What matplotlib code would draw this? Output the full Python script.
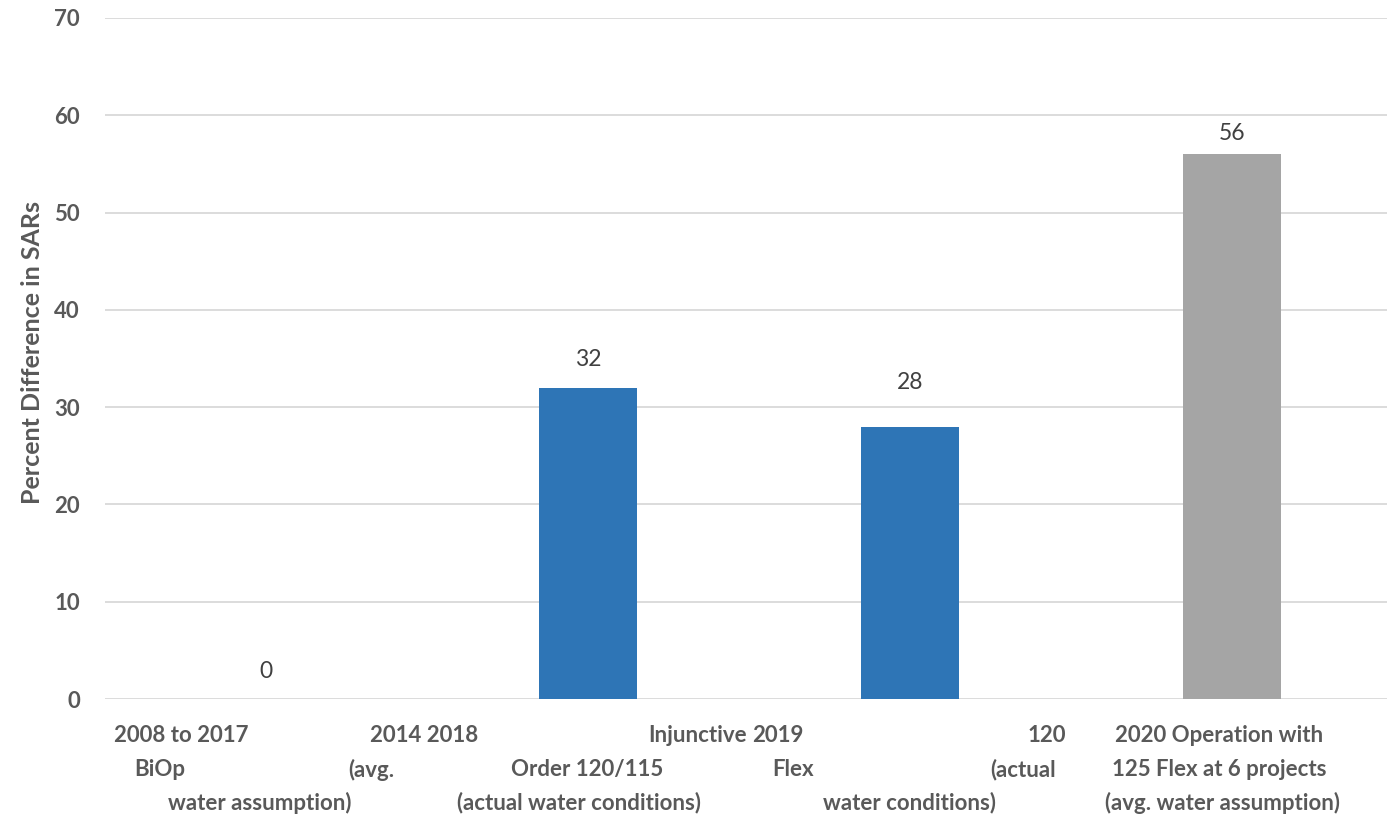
import matplotlib.pyplot as plt
import matplotlib.transforms as mtransforms

# values
categories = ["2008 to 2017 BiOp", "2014 2018 Injunctive Order", "2019 Flex 120", "2020 Operation with 125 Flex"]
values = [0, 32, 28, 56]
bar_colors = ["#2E75B6", "#2E75B6", "#2E75B6", "#A5A5A5"]
yticks = [0, 10, 20, 30, 40, 50, 60, 70]

# the category labels are wrapped oddly in the source, so each piece is placed by hand
label_pieces = [
    ("2008 to 2017", -0.264, 0), ("2014 2018", 0.491, 0), ("Injunctive", 1.34, 0),
    ("2019", 1.590, 0), ("120", 2.425, 0), ("2020 Operation with", 2.960, 0),
    ("BiOp", -0.329, 1), ("(avg.", 0.326, 1), ("Order 120/115", 0.997, 1),
    ("Flex", 1.637, 1), ("(actual", 2.351, 1), ("125 Flex at 6 projects", 2.960, 1),
    ("water assumption)", -0.019, 2), ("(actual water conditions)", 0.972, 2),
    ("water conditions)", 1.997, 2), ("(avg. water assumption)", 2.969, 2),
]
row_y = [-0.054, -0.104, -0.152]
label_offsets = [20, 20, 32, 15]  # points above bar top for value labels

W, H = 1387, 814
fig = plt.figure(figsize=(W / 100, H / 100), dpi=100)
ax = fig.add_axes([105 / W, (H - 699) / H, 1288 / W, 681 / H])

x = list(range(len(values)))
ax.bar(x, values, width=0.305, color=bar_colors, zorder=2)

for xi, v, off in zip(x, values, label_offsets):
    ax.annotate(str(v), (xi, v), xytext=(0, off), textcoords="offset points",
                ha="center", va="center", fontsize=16.5, color="#404040", family="Lato")

ax.set_xlim(-0.5, 3.5)
ax.set_ylim(0, 70)
ax.set_yticks(yticks)
ax.set_yticklabels([str(t) for t in yticks], fontsize=16, fontweight="bold",
                   color="#595959", family="Lato")
ax.tick_params(axis="y", length=0, pad=18)
ax.set_xticks([])
ax.grid(axis="y", color="#D9D9D9", linewidth=1.3, zorder=0)
for s in ax.spines.values():
    s.set_visible(False)

trans = mtransforms.blended_transform_factory(ax.transData, ax.transAxes)
for text, xd, row in label_pieces:
    ax.text(xd, row_y[row], text, transform=trans, ha="center", va="center",
            fontsize=16, fontweight="bold", color="#595959", family="Lato", clip_on=False)

fig.text(33 / W, 1 - 353 / H, "Percent Difference in SARs", rotation=90,
         ha="center", va="center", fontsize=18, fontweight="bold",
         color="#595959", family="Lato")

fig.savefig("out.png", dpi=100)
